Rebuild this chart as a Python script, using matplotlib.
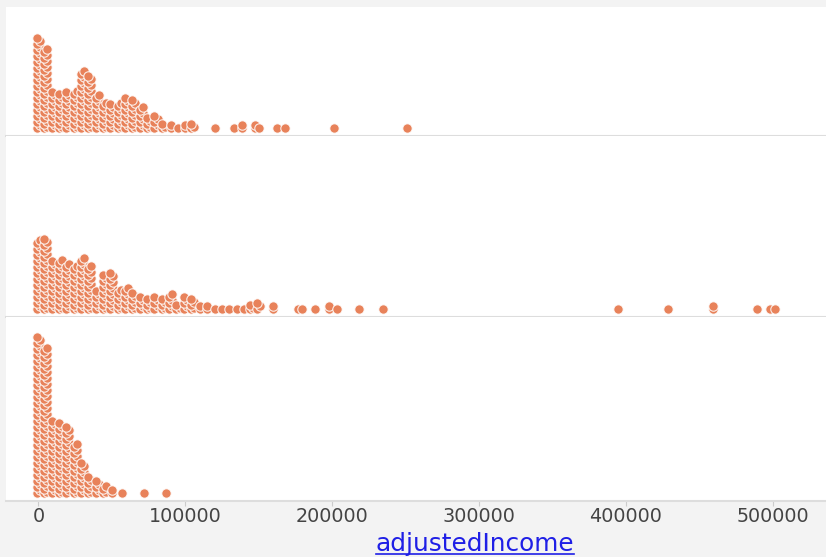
import numpy as np
import matplotlib.pyplot as plt
from matplotlib.lines import Line2D

# adjustedIncome values (binned) and number of stacked dots per bin, per group
income_a = [0, 5000, 10000, 15000, 20000, 25000, 30000, 35000, 40000, 45000,
            50000, 55000, 60000, 65000, 70000, 75000, 80000, 85000, 90000,
            95000, 100000, 105000, 120500, 133500, 138500, 147500, 150500,
            162500, 168000, 201000, 250800]
count_a = [31, 28, 13, 13, 13, 14, 20, 19, 12, 10,
           9, 10, 11, 11, 8, 5, 5, 3, 2,
           1, 2, 3, 1, 1, 2, 2, 1,
           1, 1, 1, 1]

income_b = [0, 5000, 10000, 15000, 20000, 25000, 30000, 35000, 40000, 45000,
            50000, 55000, 60000, 65000, 70000, 75000, 80000, 85000, 90000,
            95000, 100000, 105000, 110000, 115000, 120000, 125000, 130000,
            135000, 140000, 145000, 150000, 160000, 176500, 179200, 188100,
            197600, 203100, 218100, 234500, 394900, 429000, 459700, 489100,
            498000, 502000]
count_b = [24, 25, 17, 18, 16, 16, 18, 16, 7, 13,
           13, 8, 8, 7, 5, 5, 5, 5, 6,
           3, 5, 5, 2, 2, 1, 1, 1,
           1, 1, 3, 3, 2, 1, 1, 1,
           2, 1, 1, 1, 1, 1, 2, 1,
           1, 1]

income_c = [0, 5000, 10000, 15000, 20000, 25000, 30000, 35000, 40000, 45000,
            50000, 57000, 72000, 87000]
count_c = [53, 50, 25, 25, 23, 18, 11, 7, 5, 4,
           2, 1, 1, 1]

ticks = [0, 100000, 200000, 300000, 400000, 500000]

W, H = 826, 557
DOT = '#e8825a'
STEP = 3.0      # vertical spacing of stacked dots, in pixels
BASE = 8.0      # distance from axis line to the first dot centre, in pixels
SHIFT = 1100    # sideways offset of every other dot in a stack

fig = plt.figure(figsize=(W / 100, H / 100), dpi=100, facecolor='#f3f3f3')


def stack(xs, ns):
    # dots of one bin are piled up in a staggered column;
    # neighbouring bins sit half a step apart so rows do not line up
    k = np.concatenate([np.arange(n) for n in ns])
    col = np.repeat(np.arange(len(ns)), ns)
    x = np.repeat(xs, ns).astype(float)
    many = np.repeat(np.array(ns) > 2, ns)
    x = x + np.where(many, np.where(k % 2 == 0, -SHIFT, SHIFT), 0)
    y = k + np.where(many & (col % 2 == 1) & (k > 0), -0.5, 0)
    return x, y


def panel(top, bottom, xs, ns, last=False):
    h = bottom - top
    ax = fig.add_axes([6 / W, (H - bottom) / H, 820 / W, h / H])
    ax.set_facecolor('white')
    ax.set_xlim(-22100, 536400)
    ax.set_ylim(-BASE / STEP, (h - BASE) / STEP)
    x, y = stack(xs, ns)
    ax.scatter(x, y, s=46, color=DOT, edgecolor=(1, 1, 1, 0.85),
               linewidth=0.8, alpha=None, zorder=3)
    for side in ['top', 'left', 'right']:
        ax.spines[side].set_visible(False)
    ax.spines['bottom'].set_color('#dddddd')
    ax.spines['bottom'].set_linewidth(1.5)
    ax.set_yticks([])
    ax.set_xticks(ticks)
    if last:
        ax.set_xticklabels([str(t) for t in ticks])
        ax.tick_params(axis='x', length=3.6, width=0.8, color='#cccccc',
                       pad=1, labelsize=13.8, labelcolor='#444444')
    else:
        ax.tick_params(axis='x', length=0, labelbottom=False)
    return ax


panel(7, 136, income_a, count_a)
panel(136, 317, income_b, count_b)
panel(317, 501, income_c, count_c, last=True)

# axis title, drawn as an underlined link
lbl = fig.text(475 / W, 6 / H, 'adjustedIncome', ha='center', va='baseline',
               fontsize=17.8, color='#1f1fe6')
fig.canvas.draw()
bb = lbl.get_window_extent()
fig.add_artist(Line2D([bb.x0 / W, bb.x1 / W], [3.5 / H, 3.5 / H],
                      transform=fig.transFigure, color='#1f1fe6', lw=1.2))

fig.savefig('out.png', dpi=100, facecolor=fig.get_facecolor())
